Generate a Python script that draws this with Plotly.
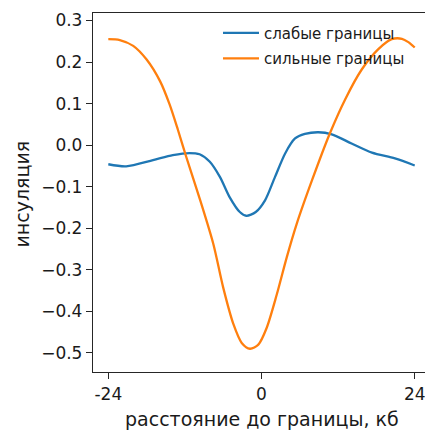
import plotly.graph_objects as go

# Insulation score profiles around domain boundaries (distance in kb)
weak_x = [-24, -21.2, -17, -13.9, -11.3, -9.7, -8.1, -6.5, -5.0, -3.4, -2.4, -0.9,
          0.55, 2.1, 3.7, 5.25, 6.8, 8.9, 11.0, 14.1, 17.3, 20.9, 24.0]
weak_y = [-0.046, -0.051, -0.036, -0.024, -0.019, -0.022, -0.040, -0.077, -0.125,
          -0.161, -0.170, -0.161, -0.133, -0.077, -0.020, 0.016, 0.027, 0.031,
          0.026, 0.004, -0.018, -0.032, -0.049]

strong_x = [-24, -22.2, -20.1, -18.0, -15.9, -14.4, -13.1, -11.8, -9.6, -7.55, -6.0,
            -4.4, -3.1, -1.8, -0.5, 0.8, 2.4, 3.95, 5.5, 7.9, 10.7, 13.1, 15.7,
            18.3, 20.4, 22.0, 23.0, 24.0]
strong_y = [0.255, 0.253, 0.239, 0.206, 0.154, 0.098, 0.037, -0.028, -0.133, -0.238,
            -0.343, -0.431, -0.476, -0.490, -0.480, -0.440, -0.359, -0.270, -0.190,
            -0.085, 0.028, 0.110, 0.182, 0.231, 0.255, 0.256, 0.248, 0.235]

x_ticks = [-24, 0, 24]
x_tick_text = ["-24", "0", "24"]
y_ticks = [0.3, 0.2, 0.1, 0.0, -0.1, -0.2, -0.3, -0.4, -0.5]
y_tick_text = ["0.3", "0.2", "0.1", "0.0", "\u22120.1", "\u22120.2", "\u22120.3",
               "\u22120.4", "\u22120.5"]

FONT = "DejaVu Sans"
AXIS_COLOR = "#262626"

fig = go.Figure()
fig.add_trace(go.Scatter(x=weak_x, y=weak_y, mode="lines", name="слабые границы",
                         legendgroup="weak",
                         line=dict(color="#1f77b4", width=2.3, shape="spline", smoothing=0.8)))
fig.add_trace(go.Scatter(x=strong_x, y=strong_y, mode="lines", name="сильные границы",
                         legendgroup="strong",
                         line=dict(color="#ff7f0e", width=2.3, shape="spline", smoothing=0.8)))

fig.update_layout(
    width=425, height=430,
    margin=dict(l=93, r=0, t=13, b=58),
    paper_bgcolor="white", plot_bgcolor="white",
    font=dict(family=FONT, size=17, color="#1a1a1a"),
    showlegend=True,
    legend=dict(x=0.3765, y=0.99, xanchor="left", yanchor="top",
                bgcolor="rgba(255,255,255,0)", borderwidth=0,
                font=dict(family=FONT, size=15), tracegroupgap=3,
                itemwidth=36),
    xaxis=dict(range=[-26.4, 25.61], tickvals=x_ticks, ticktext=x_tick_text,
               showgrid=False, zeroline=False, showline=True, mirror=True,
               linecolor=AXIS_COLOR, linewidth=1.3, ticks="outside", ticklen=6,
               tickcolor=AXIS_COLOR, tickfont=dict(size=17),
               ticklabeloverflow="allow"),
    yaxis=dict(range=[-0.546, 0.318], tickvals=y_ticks, ticktext=y_tick_text,
               showgrid=False, zeroline=False, showline=True, mirror=False,
               linecolor=AXIS_COLOR, linewidth=1.3, ticks="outside", ticklen=6,
               tickcolor=AXIS_COLOR, tickfont=dict(size=17)),
    annotations=[
        dict(text="расстояние до границы, кб", xref="paper", yref="paper",
             x=(262 - 93) / 332, y=0, xanchor="center", yanchor="middle",
             yshift=-47, showarrow=False, font=dict(family=FONT, size=19)),
        dict(text="инсуляция", xref="paper", yref="paper", x=0, y=0.5,
             xanchor="center", yanchor="middle", xshift=-72, yshift=-2, textangle=-90,
             showarrow=False, font=dict(family=FONT, size=19)),
    ],
)

fig.write_html("out.html")
